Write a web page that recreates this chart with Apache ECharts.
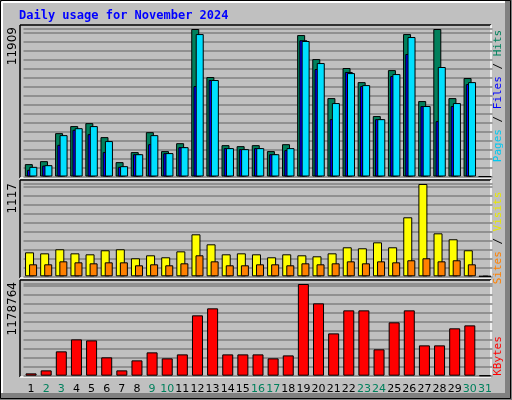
<!DOCTYPE html>
<html><head><meta charset="utf-8">
<script src="https://cdn.jsdelivr.net/npm/echarts@6/dist/echarts.min.js"></script>
<style>html,body{margin:0;padding:0;background:#c0c0c0}#c{width:512px;height:400px}</style>
</head><body><div id="c"></div>
<script>
var days = [];
for (var d = 1; d <= 31; d++) days.push(String(d));
var weekend = [2,3,9,10,16,17,23,24,30,31];

var hits  = [1000,1240,3500,4070,4310,3180,1160,1970,3580,2050,2690,11909,8030,2530,2450,2530,2050,2610,11420,9480,6330,8760,7620,4880,8590,11500,6090,11909,6330,7950,0];
var files = [540,880,2560,3770,3420,1970,780,1800,2610,1880,2370,7300,7790,2290,2210,2290,1800,2130,11000,8680,4630,8440,7300,4630,8110,9890,5690,4470,5690,7460,0];
var pages = [780,915,3340,3900,4070,2860,835,1800,3340,1890,2370,11500,7790,2290,2210,2290,1800,2290,10940,9160,5930,8350,7380,4630,8270,11260,5690,8840,5930,7620,0];
var sites  = [290,278,327,278,266,315,327,218,254,230,302,508,387,266,278,266,230,266,254,242,278,351,339,411,351,714,1117,520,448,315,0];
var visits = [145,145,181,169,157,169,169,133,145,133,157,254,181,133,133,145,145,133,157,145,157,181,157,181,169,194,218,181,194,145,0];
var kbytes = [30000,68600,313000,467000,454000,236000,68600,197000,300000,223000,274000,776000,866000,274000,274000,274000,223000,261000,1178764,930000,544000,840000,840000,339000,686000,840000,390000,390000,609000,647000,0];

var maxHits = 11909, maxSites = 1117, maxKb = 1178764;

var GL = 23.5, GR = 19.5;
var panels = [
  {top: 29, h: 147.5, max: maxHits, iv: maxHits * 9 / 147.5},
  {top: 184, h: 92.3, max: maxSites, iv: maxSites * 9 / 92.3},
  {top: 284, h: 91.7, max: maxKb, iv: maxKb * 9 / 91.7}
];

var chart = echarts.init(document.getElementById('c'));
var grids = [], xAxes = [], yAxes = [];
panels.forEach(function (p, i) {
  grids.push({left: GL, right: GR, top: p.top, height: p.h});
  xAxes.push({
    type: 'category', data: days, gridIndex: i,
    axisLine: {show: false}, axisTick: {show: false},
    axisLabel: i < 2 ? {show: false} : {
      interval: 0, margin: 8, fontFamily: 'DejaVu Sans', fontSize: 11,
      color: function (v) { return weekend.indexOf(+v) >= 0 ? '#00805c' : '#000'; }
    }
  });
  yAxes.push({
    type: 'value', gridIndex: i, min: 0, max: p.max, interval: p.iv,
    axisLabel: {show: false}, axisLine: {show: false}, axisTick: {show: false},
    splitLine: {lineStyle: {color: '#808080', width: 1.5}}
  });
});

function bars(name, data, color, idx, w, gap) {
  return {
    type: 'bar', name: name, data: data, xAxisIndex: idx, yAxisIndex: idx,
    barWidth: w, barGap: gap, silent: true, animation: false,
    itemStyle: {color: color, borderColor: '#000', borderWidth: 1}
  };
}

function frame(y1, y2) {
  return [
    {type: 'line', shape: {x1: 20, y1: y1, x2: 491, y2: y1}, style: {stroke: '#000', lineWidth: 1.5}},
    {type: 'line', shape: {x1: 20, y1: y1, x2: 20, y2: y2}, style: {stroke: '#000', lineWidth: 1.5}},
    {type: 'line', shape: {x1: 20, y1: y2, x2: 491, y2: y2}, style: {stroke: '#fff', lineWidth: 1.5}},
    {type: 'line', shape: {x1: 491, y1: y1, x2: 491, y2: y2}, style: {stroke: '#fff', lineWidth: 1.5}}
  ];
}

function vtext(x, y, parts) {
  return {type: 'text', x: x, y: y, rotation: Math.PI / 2,
    style: {text: parts, rich: rich, align: 'center', verticalAlign: 'middle',
      font: '11px "DejaVu Sans Mono"'}};
}
function ylabel(y, t) {
  return {type: 'text', x: 13, y: y, rotation: Math.PI / 2,
    style: {text: t, align: 'right', verticalAlign: 'middle', fill: '#000',
      font: '12px "DejaVu Sans"'}};
}

function rs(c) { return {fill: c, font: '11px "DejaVu Sans Mono"'}; }
var rich = {
  p: rs('#00c8f0'), f: rs('#0000ff'), h: rs('#00805c'),
  s: rs('#ff8000'), v: rs('#e8e800'), k: rs('#ff0000'), x: rs('#000')
};

var graphic = [
  {type: 'rect', shape: {x: 505, y: 0, width: 7, height: 400}, style: {fill: '#808080'}, z: -10},
  {type: 'rect', shape: {x: 0, y: 393, width: 512, height: 7}, style: {fill: '#808080'}, z: -10},
  {type: 'rect', shape: {x: 0.5, y: 0.5, width: 510, height: 398}, style: {fill: 'none', stroke: '#000'}},
  {type: 'line', shape: {x1: 2, y1: 2, x2: 2, y2: 393}, style: {stroke: '#fff', lineWidth: 2}},
  {type: 'line', shape: {x1: 2, y1: 2, x2: 505, y2: 2}, style: {stroke: '#fff', lineWidth: 2}},
  {type: 'text', x: 19, y: 16, style: {text: 'Daily usage for November 2024', fill: '#0000ff',
    font: 'bold 12px "DejaVu Sans Mono"', verticalAlign: 'middle'}},
  ylabel(27, String(maxHits)),
  ylabel(183, String(maxSites)),
  ylabel(282, String(maxKb)),
  vtext(498, 96, '{p|Pages}{x| / }{f|Files}{x| / }{h|Hits}'),
  vtext(498, 238, '{s|Sites}{x| / }{v|Visits}'),
  vtext(498, 356, '{k|KBytes}')
].concat(frame(25, 178)).concat(frame(180, 278)).concat(frame(280, 377));

chart.setOption({
  backgroundColor: '#c0c0c0',
  animation: false,
  grid: grids, xAxis: xAxes, yAxis: yAxes,
  graphic: graphic,
  series: [
    bars('Hits', hits, '#00805c', 0, 8, '-72%'),
    bars('Files', files, '#0000ff', 0, 8, '-72%'),
    bars('Pages', pages, '#00e0ff', 0, 8, '-72%'),
    bars('Sites', sites, '#ffff00', 1, 9, '-55%'),
    bars('Visits', visits, '#ff8000', 1, 8, '-55%'),
    bars('KBytes', kbytes, '#ff0000', 2, 11, '0%')
  ]
});
</script></body></html>
